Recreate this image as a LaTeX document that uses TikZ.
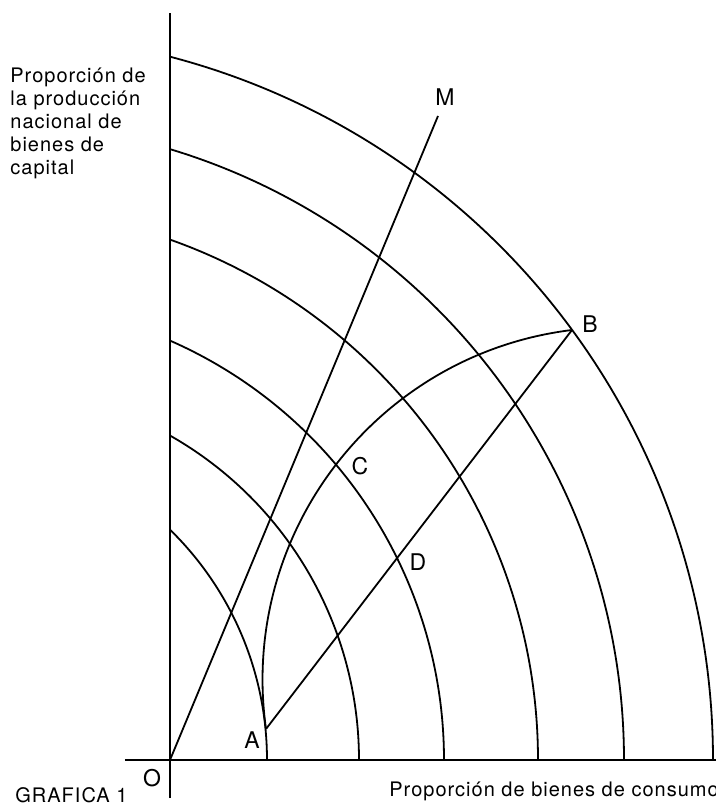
\documentclass[tikz,border=0pt]{standalone}
\usepackage{fontspec}
\setmainfont{TeX Gyre Heros}[LetterSpace=5]
\usetikzlibrary{positioning}

\begin{document}
\begin{tikzpicture}[
  x=0.5pt, y=0.5pt,
  axis/.style={line width=1.1pt},
  curve/.style={line width=0.9pt},
  ptlabel/.style={font=\fontsize{11.5}{13}\selectfont, inner sep=0pt},
  caption/.style={font=\fontsize{10}{11.5}\selectfont, inner sep=0pt, align=left},
]
  \useasboundingbox (-170,-44) rectangle (546,760);

  % Points of the graph.
  \coordinate (O) at (0,0);
  \coordinate (A) at (96,31);
  \coordinate (B) at (402,430);
  \coordinate (M) at (268,644);
  \coordinate (xl) at (-45,0);
  \coordinate (xr) at (546,0);
  \coordinate (yb) at (0,-38);
  \coordinate (yt) at (0,747);

  % Axes.
  \draw[axis] (xl) -- (xr);
  \draw[axis] (yb) -- (yt);

  % Curves of equal size, centre to the left of O.
  \draw[curve] (97,0) arc[start angle=0, end angle={acos(225/322)}, radius=322];
  \foreach \a in {189,274,368,454,543}
    \draw[curve] (\a,0) arc[start angle=0, end angle={acos(184/(\a+184))}, radius={\a+184}];

  % Paths from A to B and the ray OM.
  \draw[curve] (O) -- (M);
  \draw[curve] (A) -- (B);
  \draw[curve] (A) to[out=98, in=187] (B);

  % Point labels.
  \node[ptlabel] (labM) at (275,663) {M};
  \node[ptlabel] (labB) at (420,436) {B};
  \node[ptlabel] (labC) at (190,294) {C};
  \node[ptlabel] (labD) at (248,198) {D};
  \node[ptlabel] (labA) at (82,20) {A};
  \node[ptlabel] (labO) at (-18,-18) {O};

  % Axis titles.
  \node[caption, anchor=north west] (ytitle) at (-160,692)
    {Proporción de\\la producción\\nacional de\\bienes de\\capital};
  \node[caption, anchor=base west] (xtitle) at (219,-37) {Proporción de bienes de consumo};
  \node[caption, anchor=base west] (fig) at (-155,-42) {GRAFICA 1};
\end{tikzpicture}
\end{document}
